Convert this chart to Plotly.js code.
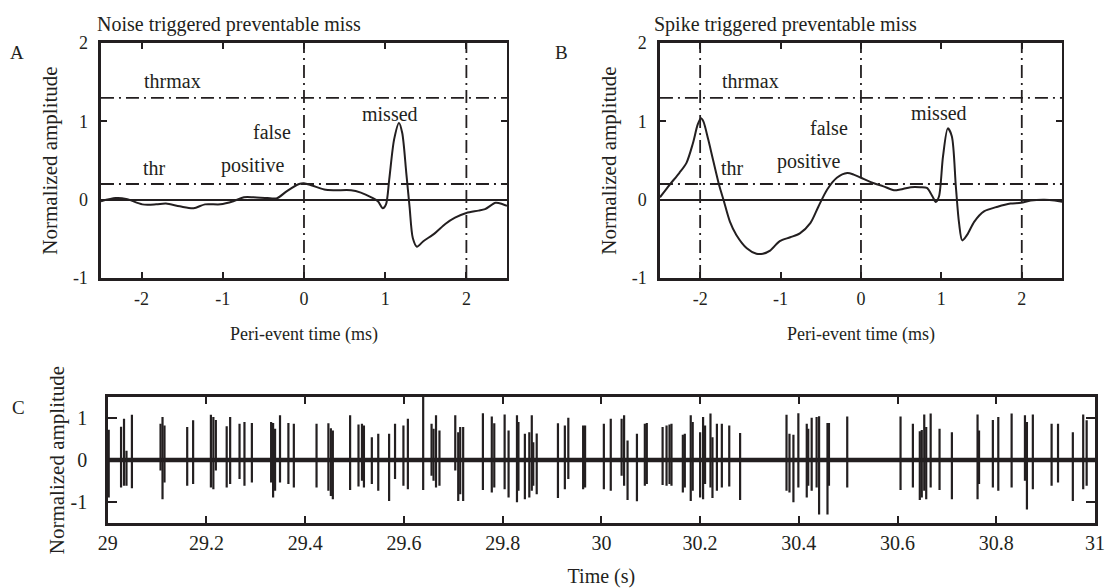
<!DOCTYPE html>
<html>
<head>
<meta charset="utf-8">
<script src="https://cdn.plot.ly/plotly-3.0.1.min.js"></script>
<style>html,body{margin:0;padding:0;background:#fff}#chart{width:1106px;height:588px}</style>
</head>
<body>
<div id="chart"></div>
<script>
// ---------- Panel A: noise triggered preventable miss ----------
const timeA = [-2.5,-2.32,-2.19,-1.99,-1.82,-1.70,-1.53,-1.36,-1.22,-1.03,-0.87,-0.74,-0.62,-0.45,-0.33,-0.21,-0.06,0,0.10,0.25,0.37,0.58,0.70,0.83,0.91,0.97,1.01,1.05,1.11,1.17,1.21,1.26,1.30,1.34,1.39,1.47,1.61,1.74,1.86,2.0,2.15,2.23,2.36,2.44,2.5];
const ampA  = [-0.02,0.02,0.01,-0.06,-0.06,-0.05,-0.085,-0.11,-0.06,-0.06,-0.02,0.03,0.03,0.02,0.02,0.11,0.20,0.21,0.18,0.13,0.12,0.12,0.09,0.03,-0.02,-0.11,-0.06,0.26,0.77,0.98,0.85,0.34,-0.09,-0.49,-0.60,-0.53,-0.43,-0.31,-0.23,-0.17,-0.14,-0.12,-0.04,-0.055,-0.08];
const eventTimesA = [0, 2];

// ---------- Panel B: spike triggered preventable miss ----------
const timeB = [-2.5,-2.38,-2.26,-2.17,-2.09,-2.03,-1.99,-1.96,-1.90,-1.84,-1.76,-1.71,-1.63,-1.55,-1.42,-1.30,-1.22,-1.13,-1.01,-0.88,-0.76,-0.63,-0.53,-0.42,-0.30,-0.17,-0.09,0,0.16,0.28,0.41,0.49,0.62,0.74,0.82,0.89,0.93,0.97,1.02,1.08,1.13,1.18,1.22,1.26,1.32,1.41,1.53,1.70,1.86,1.99,2.11,2.28,2.41,2.51];
const ampB  = [0.03,0.19,0.34,0.47,0.72,0.96,1.04,1.0,0.77,0.51,0.17,0,-0.28,-0.45,-0.62,-0.69,-0.69,-0.65,-0.53,-0.48,-0.43,-0.30,-0.09,0.13,0.28,0.34,0.32,0.28,0.21,0.17,0.12,0.13,0.16,0.16,0.15,0.04,-0.03,0.04,0.55,0.91,0.81,0.17,-0.30,-0.52,-0.45,-0.28,-0.15,-0.09,-0.05,-0.04,-0.01,0,-0.01,-0.03];
const eventTimesB = [-2, 0, 2];

// thresholds (shared)
const thr = 0.2;
const thrmax = 1.3;

// tick labels
const tickValsPeri = [-2,-1,0,1,2];
const tickTextPeri = ['-2','-1','0','1','2'];
const tickValsAmpAB = [-1,0,1,2];
const tickTextAmpAB = ['-1','0','1','2'];

// ---------- Panel C: raw trace ----------
const spikeTimes = [29.002,29.027,29.033,29.038,29.049,29.107,29.111,29.115,29.161,29.173,29.209,29.214,29.219,29.241,29.248,29.267,29.277,29.292,29.331,29.335,29.339,29.349,29.366,29.377,29.423,29.447,29.452,29.456,29.491,29.508,29.515,29.519,29.535,29.548,29.570,29.582,29.599,29.608,29.639,29.656,29.660,29.665,29.672,29.704,29.710,29.714,29.720,29.760,29.778,29.783,29.804,29.812,29.829,29.832,29.845,29.854,29.859,29.862,29.869,29.912,29.926,29.933,29.963,29.967,30.005,30.019,30.041,30.046,30.053,30.072,30.088,30.092,30.124,30.132,30.138,30.142,30.165,30.169,30.181,30.185,30.200,30.206,30.210,30.221,30.225,30.234,30.244,30.259,30.281,30.375,30.381,30.389,30.399,30.416,30.419,30.426,30.436,30.441,30.458,30.461,30.498,30.606,30.631,30.645,30.649,30.654,30.658,30.667,30.685,30.710,30.762,30.765,30.793,30.804,30.831,30.858,30.862,30.874,30.912,30.925,30.955,30.976,30.983];
const spikeTops = [0.72,0.79,0.98,0.22,1.07,0.86,1.02,0.82,0.78,0.94,1.07,1.02,0.95,0.80,1.02,0.86,0.90,0.88,0.90,0.88,0.74,1.06,0.88,0.86,0.86,0.87,0.75,0.70,1.06,0.84,0.86,0.82,0.54,0.62,0.62,0.86,0.82,0.98,1.5,0.86,0.74,1.06,0.70,1.06,0.66,0.78,0.78,1.11,1.03,0.87,1.08,0.70,1.06,0.90,0.62,0.66,1.06,0.42,0.63,0.87,0.82,1.0,0.82,0.82,0.86,0.98,0.98,1.06,0.46,0.62,0.86,0.88,0.78,0.82,0.84,0.86,0.60,0.62,1.06,0.90,0.66,1.02,0.82,1.10,0.54,0.86,0.86,0.82,0.64,1.07,0.62,0.60,1.11,0.86,0.74,1.0,1.02,1.04,0.88,0.88,1.03,1.03,0.86,0.68,0.71,1.08,0.78,1.10,0.74,0.66,1.08,0.70,0.95,1.02,1.10,1.06,0.90,1.08,0.86,0.86,0.66,1.08,0.94];
const spikeBottoms = [-0.89,-0.65,-0.61,-0.61,-0.67,-0.25,-0.93,-0.53,-0.61,-0.57,-0.65,-0.69,-0.25,-0.65,-0.57,-0.45,-0.61,-0.53,-0.53,-0.89,-0.73,-0.53,-0.57,-0.65,-0.65,-0.73,-0.85,-0.93,-0.71,-0.63,-0.49,-0.65,-0.57,-0.73,-0.97,-0.45,-0.61,-0.69,-0.71,-0.37,-0.49,-0.65,-0.61,-0.25,-0.97,-0.81,-0.97,-0.71,-0.77,-0.65,-0.69,-0.89,-1.0,-0.73,-0.93,-0.89,-0.73,-0.61,-0.81,-0.90,-0.69,-0.45,-0.69,-0.65,-0.69,-0.73,-0.37,-0.61,-0.95,-0.98,-0.61,-0.57,-0.59,-0.61,-0.57,-0.61,-0.77,-0.65,-0.97,-0.73,-0.89,-0.93,-0.57,-0.65,-0.90,-0.73,-0.65,-0.63,-0.95,-0.73,-0.77,-1.0,-0.65,-0.89,-0.61,-0.73,-0.65,-1.29,-1.29,-0.61,-0.65,-0.71,-0.65,-0.95,-0.89,-0.73,-0.93,-0.65,-0.71,-0.93,-0.93,-0.57,-0.65,-0.73,-0.65,-0.49,-1.17,-0.69,-0.61,-0.53,-0.97,-0.69,-0.61];
const baselineTimes = [29, 31];
const baselineAmp = [0, 0];
const tickValsTime = [29,29.2,29.4,29.6,29.8,30,30.2,30.4,30.6,30.8,31];
const tickTextTime = ['29','29.2','29.4','29.6','29.8','30','30.2','30.4','30.6','30.8','31'];
const tickValsAmpC = [-1,0,1];
const tickTextAmpC = ['-1','0','1'];

// ---------- build ----------
const INK = '#231f20';
const FONT = '"Liberation Serif", "Times New Roman", serif';
const DASHDOT = '13px,5px,2px,5px';

const spikeX = [], spikeY = [];
spikeTimes.forEach((t, i) => { spikeX.push(t, t, null); spikeY.push(spikeTops[i], spikeBottoms[i], null); });

const traces = [
  {x: timeA, y: ampA, xaxis: 'x', yaxis: 'y', type: 'scatter', mode: 'lines',
   line: {color: INK, width: 2, shape: 'spline', smoothing: 0.8}, hoverinfo: 'skip'},
  {x: timeB, y: ampB, xaxis: 'x2', yaxis: 'y2', type: 'scatter', mode: 'lines',
   line: {color: INK, width: 2, shape: 'spline', smoothing: 0.8}, hoverinfo: 'skip'},
  {x: baselineTimes, y: baselineAmp, xaxis: 'x3', yaxis: 'y3', type: 'scatter', mode: 'lines',
   line: {color: INK, width: 4.5}, hoverinfo: 'skip'},
  {x: spikeX, y: spikeY, xaxis: 'x3', yaxis: 'y3', type: 'scatter', mode: 'lines',
   line: {color: INK, width: 2.2}, hoverinfo: 'skip', connectgaps: false}
];

const shapes = [];
[['x','y',eventTimesA],['x2','y2',eventTimesB]].forEach(([xa, ya, evs]) => {
  [thr, thrmax].forEach(v => shapes.push({type: 'line', xref: xa + ' domain', x0: 0, x1: 1, yref: ya, y0: v, y1: v,
    line: {color: INK, width: 1.8, dash: DASHDOT}, layer: 'below'}));
  evs.forEach(t => shapes.push({type: 'line', xref: xa, x0: t, x1: t, yref: ya + ' domain', y0: 0, y1: 1,
    line: {color: INK, width: 1.8, dash: DASHDOT}, layer: 'below'}));
});

function periX(domain) {
  return {domain: domain, range: [-2.5, 2.5], showgrid: false, zeroline: false, showline: true, mirror: 'ticks',
    linecolor: INK, linewidth: 2.5, ticks: 'inside', ticklen: 6, tickwidth: 2, tickcolor: INK,
    tickvals: tickValsPeri, ticktext: tickTextPeri, ticklabelstandoff: 3, automargin: false,
    tickfont: {family: FONT, size: 18, color: INK},
    title: {text: 'Peri-event time (ms)', font: {family: FONT, size: 18, color: INK}, standoff: 20}};
}
function ampY(domain, anchor) {
  return {domain: domain, anchor: anchor, range: [-1, 2], showgrid: false, zeroline: true, zerolinecolor: INK, zerolinewidth: 2,
    showline: true, mirror: 'ticks', linecolor: INK, linewidth: 2.5, ticks: 'inside', ticklen: 6, tickwidth: 2, tickcolor: INK,
    tickvals: tickValsAmpAB, ticktext: tickTextAmpAB, ticklabelstandoff: 7, automargin: false,
    tickfont: {family: FONT, size: 18, color: INK},
    title: {text: 'Normalized amplitude', font: {family: FONT, size: 21, color: INK}, standoff: 10}};
}

const ann = (xref, yref, x, y, text, size, xanchor) => ({xref, yref, x, y, text, showarrow: false,
  xanchor: xanchor || 'center', yanchor: 'middle', font: {family: FONT, size: size, color: INK}});

const annotations = [
  ann('paper','paper',0.0859,0.9575,'Noise triggered preventable miss',20,'left'),
  ann('paper','paper',0.5892,0.9575,'Spike triggered preventable miss',20,'left'),
  ann('paper','paper',0.0151,0.9107,'A',19),
  ann('paper','paper',0.5081,0.9107,'B',19),
  ann('paper','paper',0.0163,0.3078,'C',19),
  ann('x','y',-1.62,1.51,'thrmax',20), ann('x','y',-1.84,0.40,'thr',20),
  ann('x','y',-0.39,0.86,'false',20), ann('x','y',-0.64,0.44,'positive',20),
  ann('x','y',1.06,1.09,'missed',20),
  ann('x2','y2',-1.38,1.51,'thrmax',20), ann('x2','y2',-1.6,0.40,'thr',20),
  ann('x2','y2',-0.4,0.91,'false',20), ann('x2','y2',-0.65,0.49,'positive',20),
  ann('x2','y2',0.97,1.10,'missed',20)
];

const layout = {
  width: 1106, height: 588, margin: {l: 0, r: 0, t: 0, b: 0},
  paper_bgcolor: '#fff', plot_bgcolor: '#fff', showlegend: false,
  font: {family: FONT, color: INK},
  xaxis: periX([0.0913, 0.4584]),
  yaxis: ampY([0.5272, 0.9269], 'x'),
  xaxis2: Object.assign(periX([0.5967, 0.9602]), {anchor: 'y2'}),
  yaxis2: ampY([0.5272, 0.9269], 'x2'),
  xaxis3: {domain: [0.0974, 0.9901], anchor: 'y3', range: [29, 31], showgrid: false, zeroline: false, showline: true, mirror: 'ticks',
    linecolor: INK, linewidth: 2.5, ticks: 'inside', ticklen: 7, tickwidth: 2, tickcolor: INK,
    tickvals: tickValsTime, ticktext: tickTextTime, ticklabelstandoff: 0, automargin: false,
    tickfont: {family: FONT, size: 20, color: INK},
    title: {text: 'Time (s)', font: {family: FONT, size: 20, color: INK}, standoff: 24}},
  yaxis3: {domain: [0.1100, 0.3253], anchor: 'x3', range: [-1.5, 1.5], showgrid: false, zeroline: false, showline: true, mirror: 'ticks',
    linecolor: INK, linewidth: 2.5, ticks: 'inside', ticklen: 9, tickwidth: 2, tickcolor: INK,
    tickvals: tickValsAmpC, ticktext: tickTextAmpC, ticklabelstandoff: 14, automargin: false,
    tickfont: {family: FONT, size: 20, color: INK},
    title: {text: 'Normalized amplitude', font: {family: FONT, size: 21, color: INK}, standoff: 0}},
  shapes: shapes,
  annotations: annotations
};

Plotly.newPlot('chart', traces, layout, {staticPlot: true, displayModeBar: false});
</script>
</body>
</html>
